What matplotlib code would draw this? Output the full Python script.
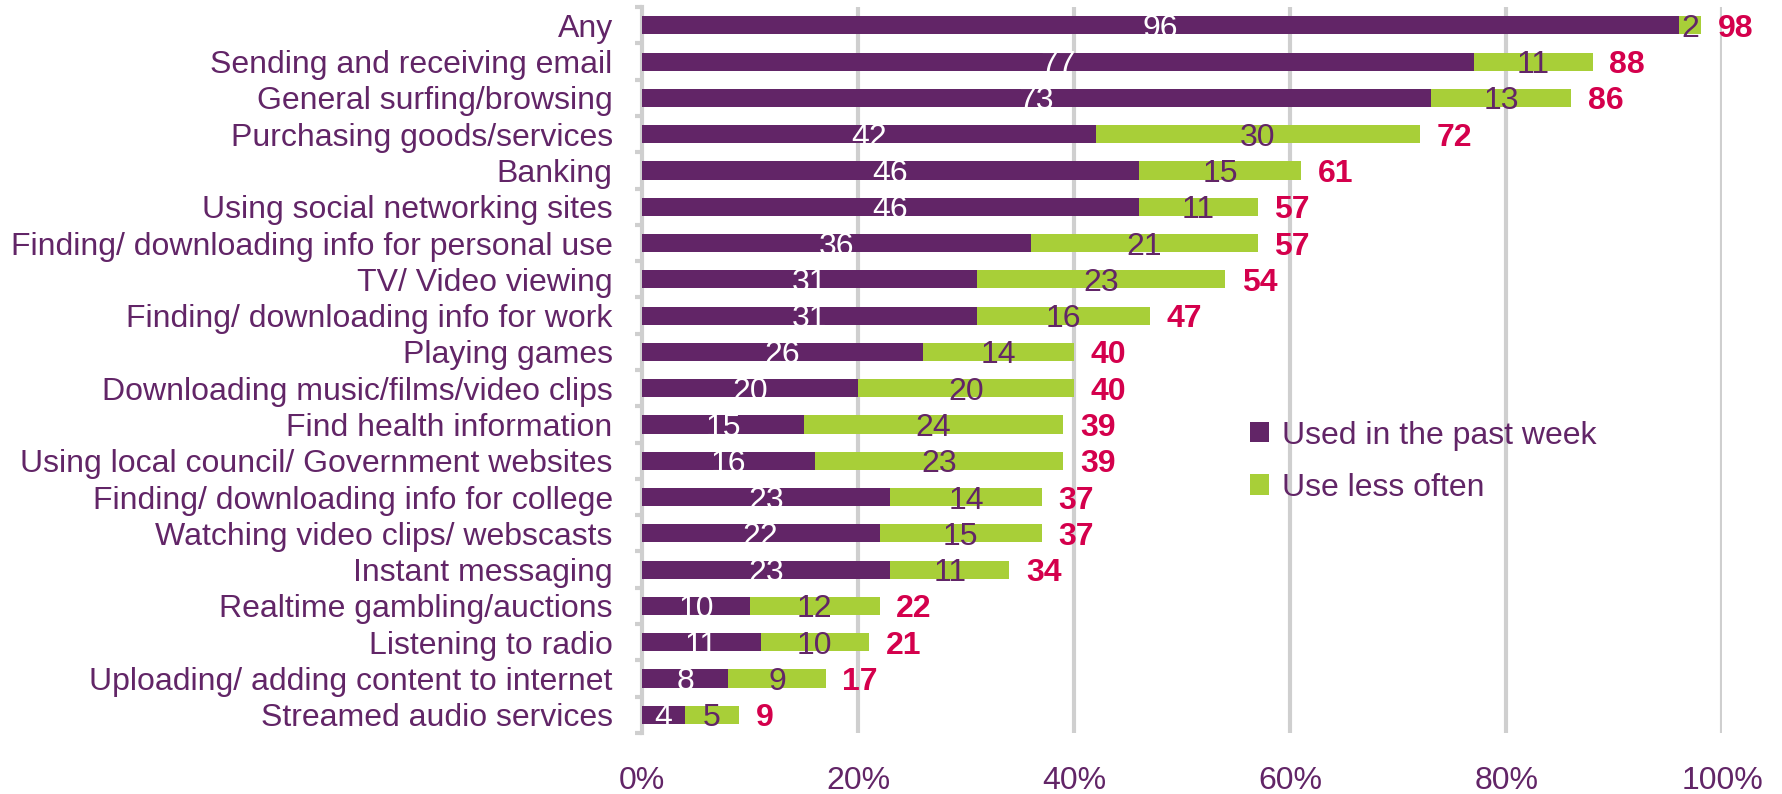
import matplotlib as mpl
import matplotlib.pyplot as plt
import numpy as np

mpl.rcParams['font.family'] = ['Liberation Sans', 'DejaVu Sans']

categories = [
    'Any', 'Sending and receiving email', 'General surfing/browsing',
    'Purchasing goods/services', 'Banking', 'Using social networking sites',
    'Finding/ downloading info for personal use', 'TV/ Video viewing',
    'Finding/ downloading info for work', 'Playing games',
    'Downloading music/films/video clips', 'Find health information',
    'Using local council/ Government websites',
    'Finding/ downloading info for college', 'Watching video clips/ webscasts',
    'Instant messaging', 'Realtime gambling/auctions', 'Listening to radio',
    'Uploading/ adding content to internet', 'Streamed audio services',
]
past_week = [96, 77, 73, 42, 46, 46, 36, 31, 31, 26, 20, 15, 16, 23, 22, 23, 10, 11, 8, 4]
less_often = [2, 11, 13, 30, 15, 11, 21, 23, 16, 14, 20, 24, 23, 14, 15, 11, 12, 10, 9, 5]
totals = [98, 88, 86, 72, 61, 57, 57, 54, 47, 40, 40, 39, 39, 37, 37, 34, 22, 21, 17, 9]
xticks = [0, 20, 40, 60, 80, 100]

purple = '#622567'
green = '#A8CF38'
red = '#D4004C'
grey = '#CFCFCF'
fs = 23

fig = plt.figure(figsize=(17.83, 7.94), dpi=100, facecolor='white')
ax = fig.add_axes([0.36, 0.077, 0.606, 0.914])

y = np.arange(len(categories))
h = 0.5
ax.barh(y, past_week, height=h, color=purple, label='Used in the past week', zorder=3)
ax.barh(y, less_often, left=past_week, height=h, color=green, label='Use less often', zorder=3)

for i in range(len(categories)):
    ax.text(past_week[i] / 2, y[i], str(past_week[i]), ha='center', va='center_baseline',
            color='white', fontsize=fs, zorder=4)
    ax.text(past_week[i] + less_often[i] / 2, y[i], str(less_often[i]), ha='center',
            va='center_baseline', color=purple, fontsize=fs, zorder=4)
    ax.annotate(str(totals[i]), (totals[i], y[i]), xytext=(12, 0), textcoords='offset points',
                ha='left', va='center_baseline', color=red, fontsize=fs, fontweight='bold')

ax.set_xlim(0, 100)
ax.set_ylim(len(categories) - 0.5, -0.5)
ax.set_xticks(xticks)
ax.set_xticklabels([f'{t}%' for t in xticks], color=purple, fontsize=fs)
ax.tick_params(axis='x', length=0, pad=24)
for t in xticks[1:]:
    ax.axvline(t, color=grey, lw=3, zorder=1)

ax.set_yticks(y)
ax.set_yticklabels(categories, color=purple, fontsize=fs, va='center_baseline')
ax.tick_params(axis='y', which='major', length=0, pad=21)
ax.set_yticks(np.arange(-0.5, len(categories)), minor=True)
ax.tick_params(axis='y', which='minor', length=5, width=3, color=grey, direction='out')

for s in ['top', 'right', 'bottom']:
    ax.spines[s].set_visible(False)
ax.spines['left'].set_color(grey)
ax.spines['left'].set_linewidth(3)

ax.legend(loc='upper left', bbox_to_anchor=(0.536, 0.47), frameon=False,
          fontsize=fs, handlelength=0.6, handleheight=0.6, handletextpad=0.4,
          labelspacing=0.7, labelcolor=purple)

fig.savefig('out.png', dpi=100, facecolor='white')
